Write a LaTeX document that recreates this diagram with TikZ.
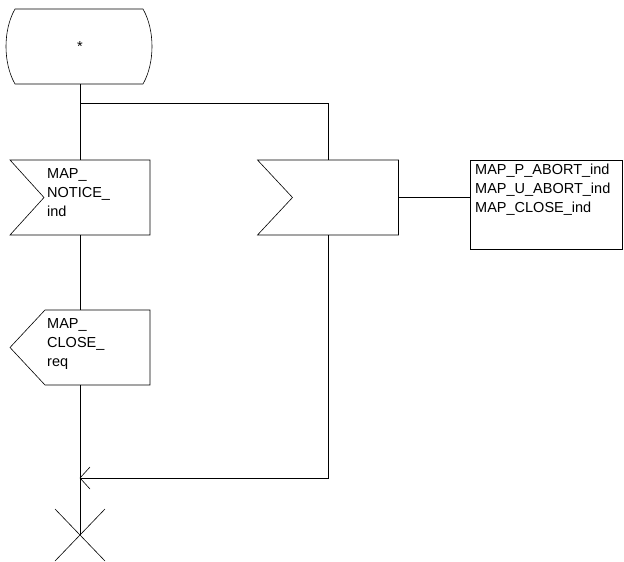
\documentclass[tikz,border=0pt]{standalone}
\usepackage{fontspec}
\setmainfont{Liberation Sans}
\usetikzlibrary{calc}
\begin{document}
\begin{tikzpicture}[x=1pt,y=-1pt,
  sym/.style={draw=none,inner sep=0pt,outer sep=0pt},
  outline/.style={draw=black,line width=0.6pt,line join=miter},
  conn/.style={draw=black,line width=0.6pt},
  lbl/.style={anchor=north west,inner sep=0pt,align=left,font=\fontsize{14.5}{19}\selectfont},
  openarrow/.style={draw=black,line width=0.6pt}]
\useasboundingbox (0,0) rectangle (624,562);

% state symbol
\node[sym,minimum width=144pt,minimum height=75pt] (st) at (80,46.5) {};
\draw[outline] ($(st.north west)+(7,0)$) -- ($(st.north east)+(-9,0)$)
  .. controls ($(st.north east)+(3,21)$) and ($(st.south east)+(3,-21)$) .. ($(st.south east)+(-9,0)$)
  -- ($(st.south west)+(7,0)$)
  .. controls ($(st.south west)+(-5,-21)$) and ($(st.north west)+(-5,21)$) .. cycle;
\node[inner sep=0pt,font=\fontsize{14.5}{19}\selectfont] (stl) at (st) {*};

% left input
\node[sym,minimum width=140pt,minimum height=75pt] (in1) at (80,197.5) {};
\draw[outline] (in1.north west) -- (in1.north east) -- (in1.south east) -- (in1.south west)
  -- ($(in1.west)+(34,0)$) -- cycle;
\node[lbl] (in1l) at (47,168) {MAP\_\\NOTICE\_\\ind};

% right input
\node[sym,minimum width=141pt,minimum height=75pt] (in2) at (328,197.5) {};
\draw[outline] (in2.north west) -- (in2.north east) -- (in2.south east) -- (in2.south west)
  -- ($(in2.west)+(35,0)$) -- cycle;

% comment
\node[sym,draw=black,line width=0.6pt,minimum width=152pt,minimum height=89pt] (cmt) at (546,204.5) {};
\node[lbl] (cmtl) at (475,164) {MAP\_P\_ABORT\_ind\\MAP\_U\_ABORT\_ind\\MAP\_CLOSE\_ind};

% output
\node[sym,minimum width=140pt,minimum height=75pt] (out) at (80,347.5) {};
\draw[outline] (out.north east) -- (out.south east) -- ($(out.south west)+(35,0)$)
  -- (out.west) -- ($(out.north west)+(35,0)$) -- cycle;
\node[lbl] (outl) at (47,318) {MAP\_\\CLOSE\_\\req};

% stop
\coordinate (stop) at (80,535);
\coordinate (join) at (80,478);
\draw[conn] ($(stop)+(-25,-26)$) -- ($(stop)+(25,26)$);
\draw[conn] ($(stop)+(-25,26)$) -- ($(stop)+(25,-26)$);

% connectors
\draw[conn] (st.south) -- (in1.north);
\draw[conn] (st.south) -- ++(0,19) -| (in2.north);
\draw[conn] (in1.south) -- (out.north);
\draw[conn] (out.south) -- (stop);
\draw[conn] (in2.east) -- (in2.east -| cmt.west);
\draw[conn] (in2.south) |- (join);
\draw[openarrow] ($(join)+(10,-11)$) -- (join) -- ($(join)+(10,11)$);
\end{tikzpicture}
\end{document}
